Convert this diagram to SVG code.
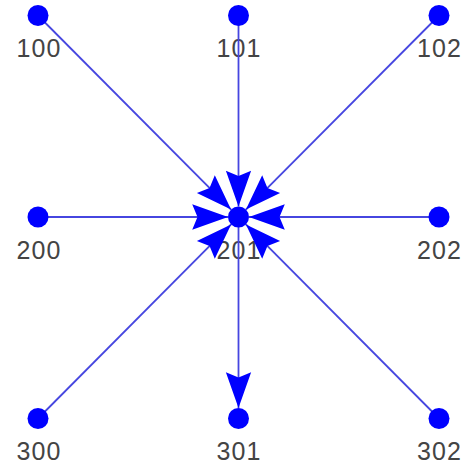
<svg xmlns="http://www.w3.org/2000/svg" width="466" height="467" viewBox="0 0 466 467">
<defs>
<style>
.lbl{font-family:"Liberation Sans",Arial,sans-serif;font-size:25px;fill:#444444;text-anchor:middle}
.edge{stroke:#4646e0;stroke-width:1.8;fill:none}
.node{fill:#0000ff}
</style>
<marker id="arr" markerUnits="userSpaceOnUse" markerWidth="40" markerHeight="30" viewBox="-36 -14 38 28" refX="0" refY="0" orient="auto">
<path d="M0,0 L-34,-12 L-29,0 L-34,12 Z" fill="#0000ff"/>
</marker>
</defs>
<rect width="466" height="467" fill="#ffffff"/>
<g id="labels">
<text class="lbl" x="38.5" y="57" textLength="44" lengthAdjust="spacing">100</text>
<text class="lbl" x="238.5" y="57" textLength="44" lengthAdjust="spacing">101</text>
<text class="lbl" x="439" y="57" textLength="44" lengthAdjust="spacing">102</text>
<text class="lbl" x="38.5" y="258.5" textLength="44" lengthAdjust="spacing">200</text>
<text class="lbl" x="238.5" y="258.5" textLength="44" lengthAdjust="spacing">201</text>
<text class="lbl" x="439" y="258.5" textLength="44" lengthAdjust="spacing">202</text>
<text class="lbl" x="38.5" y="460" textLength="44" lengthAdjust="spacing">300</text>
<text class="lbl" x="238.5" y="460" textLength="44" lengthAdjust="spacing">301</text>
<text class="lbl" x="439" y="460" textLength="44" lengthAdjust="spacing">302</text>
</g>
<g id="edges">
<line class="edge" x1="38" y1="15.5" x2="231.09" y2="209.56" marker-end="url(#arr)"/>
<line class="edge" x1="238.5" y1="15.5" x2="238.5" y2="206.5" marker-end="url(#arr)"/>
<line class="edge" x1="439" y1="15.5" x2="245.91" y2="209.56" marker-end="url(#arr)"/>
<line class="edge" x1="38" y1="217" x2="228" y2="217" marker-end="url(#arr)"/>
<line class="edge" x1="439" y1="217" x2="249" y2="217" marker-end="url(#arr)"/>
<line class="edge" x1="38" y1="418.5" x2="231.09" y2="224.44" marker-end="url(#arr)"/>
<line class="edge" x1="439" y1="418.5" x2="245.91" y2="224.44" marker-end="url(#arr)"/>
<line class="edge" x1="238.5" y1="217" x2="238.5" y2="408" marker-end="url(#arr)"/>
</g>
<g id="n100"><circle class="node" cx="38" cy="15.5" r="10.5"/></g>
<g id="n101"><circle class="node" cx="238.5" cy="15.5" r="10.5"/></g>
<g id="n102"><circle class="node" cx="439" cy="15.5" r="10.5"/></g>
<g id="n200"><circle class="node" cx="38" cy="217" r="10.5"/></g>
<g id="n201"><circle class="node" cx="238.5" cy="217" r="10.5"/></g>
<g id="n202"><circle class="node" cx="439" cy="217" r="10.5"/></g>
<g id="n300"><circle class="node" cx="38" cy="418.5" r="10.5"/></g>
<g id="n301"><circle class="node" cx="238.5" cy="418.5" r="10.5"/></g>
<g id="n302"><circle class="node" cx="439" cy="418.5" r="10.5"/></g>
</svg>
